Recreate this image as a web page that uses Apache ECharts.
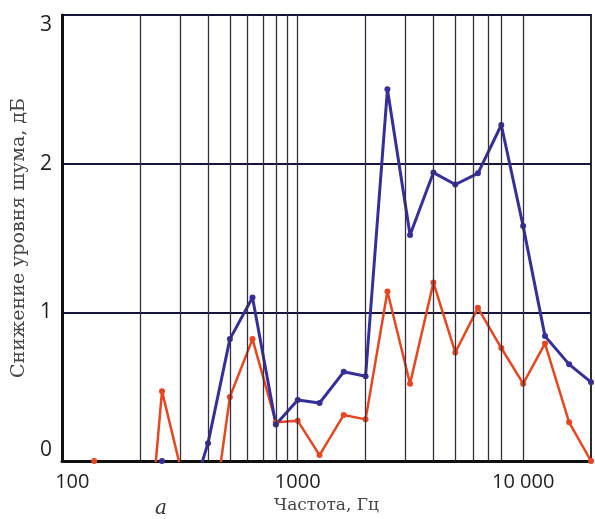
<!DOCTYPE html>
<html>
<head>
<meta charset="utf-8">
<script src="https://cdn.jsdelivr.net/npm/echarts@6/dist/echarts.min.js"></script>
<style>
  html, body { margin: 0; padding: 0; background: #fff; }
  #chart { width: 595px; height: 519px; }
</style>
</head>
<body>
<div id="chart"></div>
<script>
// 1/3-octave band centres, Hz
var freqs = [125, 160, 200, 250, 315, 400, 500, 630, 800, 1000, 1250, 1600, 2000,
  2500, 3150, 4000, 5000, 6300, 8000, 10000, 12500, 16000, 20000];
// noise reduction, dB (negative parts fall below the axis and are clipped)
var redValues = [0, -0.6, -1.2, 0.47, -0.16, -0.63, 0.43, 0.82, 0.26, 0.27, 0.04, 0.31, 0.28,
  1.14, 0.52, 1.2, 0.73, 1.03, 0.76, 0.52, 0.79, 0.26, 0];
var blueValues = [null, null, null, 0, -0.39, 0.12, 0.82, 1.1, 0.245, 0.41, 0.39, 0.6, 0.57,
  2.5, 1.52, 1.94, 1.86, 1.935, 2.26, 1.58, 0.84, 0.65, 0.53];
// vertical grid lines, Hz
var gridFreqs = [200, 300, 400, 500, 600, 700, 800, 900, 1000,
  2000, 3000, 4000, 5000, 6000, 7000, 8000, 10000];
var xLabels = { 100: "100", 1000: "1000", 10000: "10 000" };

function pairs(values) {
  var out = [];
  for (var i = 0; i < freqs.length; i++) {
    if (values[i] != null) out.push([freqs[i], values[i]]);
  }
  return out;
}

var chart = echarts.init(document.getElementById("chart"));

chart.setOption({
  animation: false,
  grid: {
    left: 62, right: 4, top: 15, bottom: 58,
    show: true, borderColor: "#161616", borderWidth: 1.8
  },
  xAxis: {
    type: "log",
    logBase: 10,
    min: 90,
    max: 20000,
    name: "Частота, Гц",
    nameLocation: "middle",
    nameGap: 33,
    nameTextStyle: { fontFamily: "DejaVu Serif", fontSize: 17, color: "#454545" },
    axisLine: { lineStyle: { color: "#111", width: 3 } },
    axisTick: { show: false },
    splitLine: { show: false },
    axisLabel: {
      margin: 11,
      fontFamily: "Open Sans",
      fontSize: 20,
      color: "#1e1e1e",
      formatter: function (v) {
        var k = Math.round(v);
        return xLabels[k] || "";
      }
    }
  },
  yAxis: {
    type: "value",
    min: 0,
    max: 3,
    interval: 1,
    name: "Снижение уровня шума, дБ",
    nameLocation: "middle",
    nameGap: 33,
    nameTextStyle: { fontFamily: "DejaVu Serif", fontSize: 19, color: "#454545" },
    axisLine: { lineStyle: { color: "#111", width: 3 } },
    axisTick: { show: false },
    splitLine: { lineStyle: { color: "#15153c", width: 2 } },
    axisLabel: {
      margin: 10,
      fontFamily: "Open Sans",
      fontSize: 21,
      color: "#1e1e1e",
      verticalAlignMinLabel: "bottom",
      verticalAlignMaxLabel: "top"
    }
  },
  graphic: [{
    type: "text",
    left: 155,
    top: 499,
    style: { text: "a", fontFamily: "DejaVu Serif", fontStyle: "italic", fontSize: 20, fill: "#333" }
  }],
  series: [
    {
      // carrier for the vertical grid lines
      type: "line",
      z: 1,
      data: [[1000, 0]],
      showSymbol: false,
      lineStyle: { width: 0 },
      silent: true,
      markLine: {
        silent: true,
        symbol: "none",
        label: { show: false },
        lineStyle: { type: "solid", color: "#352e40", width: 1.3 },
        data: gridFreqs.map(function (f) { return { xAxis: f }; })
      }
    },
    {
      type: "line",
      data: pairs(redValues),
      symbol: "circle",
      symbolSize: 6,
      itemStyle: { color: "#e9461f" },
      lineStyle: { color: "#e9461f", width: 2.5 }
    },
    {
      type: "line",
      data: pairs(blueValues),
      symbol: "circle",
      symbolSize: 6,
      itemStyle: { color: "#352f9c" },
      lineStyle: { color: "#352f9c", width: 3 }
    }
  ]
});
</script>
</body>
</html>
